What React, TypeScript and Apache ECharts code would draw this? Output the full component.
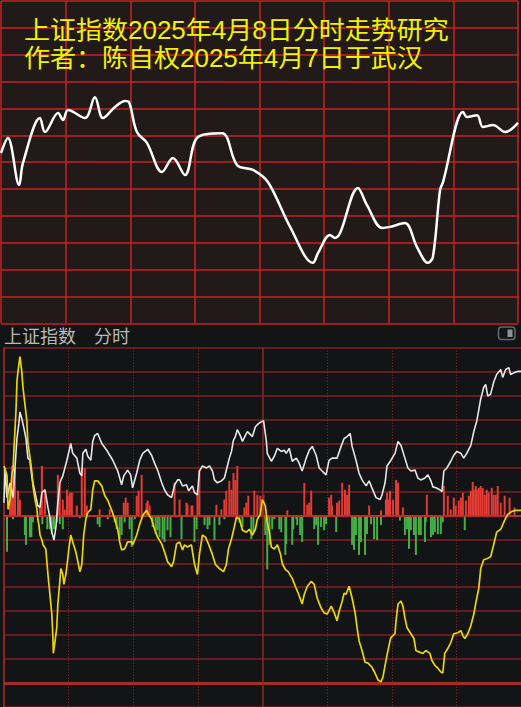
import React, { useEffect, useRef } from "react";
import * as echarts from "echarts";

// ---- Top panel: hand-drawn forecast curve (x: trading minute 0..240, y: grid rows 0..12)
const titleLine1 = "上证指数2025年4月8日分时走势研究";
const titleLine2 = "作者：陈自权2025年4月7日于武汉";
const forecastLine: [number, number][] = [
  [0, 6.34], [3.2, 6.9], [8.4, 5.15], [10.2, 5.97], [18.1, 7.64], [20.4, 7.12], [26.5, 7.83],
  [28.8, 7.57], [31.1, 7.94], [39.0, 7.64], [43.6, 8.42], [47.3, 7.64], [52.9, 8.05], [57.6, 8.28],
  [59.4, 8.24], [63.1, 7.12], [67.8, 6.71], [74.7, 5.63], [79.8, 6.15], [85.4, 5.52], [91.4, 6.94],
  [102.6, 7.08], [109.6, 5.89], [117.0, 5.71], [123.9, 5.26], [134.2, 3.59], [144.8, 2.25],
  [147.2, 2.62], [152.7, 3.29], [155.0, 3.18], [157.4, 3.36], [165.7, 5.04], [169.9, 4.4],
  [176.9, 3.55], [180.6, 3.59], [187.5, 3.73], [193.1, 2.84], [198.2, 2.25], [200.5, 2.47],
  [203.8, 4.96], [205.2, 5.26], [214.5, 7.87], [216.3, 7.68], [221.0, 7.75], [223.7, 7.31],
  [228.4, 7.38], [234.0, 7.12], [240.0, 7.46],
];

// ---- Bottom panel: real intraday chart (x: minute 0..240, y: grid units, 0 = previous close)
const headerName = "上证指数";
const headerMode = "分时";
const indexLine: [number, number][] = [
  [0, 0.53], [0.5, 1.98], [1.4, 0.74], [2.8, 1.36], [4.2, 0.74], [5.1, 1.98], [6.0, 3.21], [6.9, 3.83],
  [7.4, 4.32], [8.3, 4.03], [9.3, 3.62], [10.2, 3.21], [11.1, 2.39], [12.0, 2.3], [13.0, 1.56],
  [14.4, 0.95], [15.7, 0.41], [16.7, 0.33], [17.6, 0.95], [19.0, 1.07], [20.4, 0.33], [21.3, -0.08],
  [22.2, -0.7], [23.2, -1.03], [24.1, -0.49], [25.0, 0.53], [25.9, 1.36], [27.3, 1.65], [29.2, 2.3],
  [31.0, 3.0], [31.9, 2.59], [33.8, 2.39], [35.2, 1.77], [36.1, 1.65], [36.6, 2.59], [38.0, 2.76],
  [38.9, 2.47], [40.3, 2.3], [41.2, 3.09], [42.1, 3.33], [43.5, 3.42], [45.4, 3.0], [47.7, 2.72],
  [50.5, 2.3], [52.8, 1.85], [54.6, 1.28], [55.6, 1.65], [57.4, 1.89], [58.8, 1.69], [59.7, 1.15],
  [61.6, 1.77], [63.0, 2.3], [64.4, 2.59], [66.7, 2.76], [68.5, 2.51], [69.9, 2.18], [71.3, 1.89],
  [73.2, 1.36], [74.5, 1.07], [75.9, 0.86], [77.8, 0.74], [79.2, 1.28], [80.6, 1.48], [81.5, 1.48],
  [82.9, 1.23], [84.7, 1.28], [85.7, 1.03], [87.5, 1.23], [88.4, 0.95], [89.8, 0.86], [90.7, 1.85],
  [92.1, 2.06], [94.0, 1.98], [95.4, 2.06], [96.8, 1.85], [97.7, 1.48], [99.1, 1.36], [100.9, 1.44],
  [102.3, 1.56], [103.7, 2.06], [104.6, 2.39], [105.6, 2.67], [106.5, 3.13], [107.4, 3.29],
  [108.3, 3.58], [109.7, 3.33], [110.7, 3.09], [112.0, 3.33], [113.0, 3.5], [114.4, 3.37],
  [115.3, 3.29], [116.7, 3.7], [118.1, 3.83], [119.5, 3.91], [120.5, 3.95], [121.8, 3.09],
  [122.2, 2.59], [124.1, 2.26], [125.5, 2.47], [126.9, 2.8], [128.7, 2.67], [130.1, 2.72],
  [131.0, 2.59], [132.4, 2.8], [133.8, 2.26], [135.7, 2.39], [137.0, 2.18], [138.4, 1.85],
  [140.3, 2.39], [141.7, 2.72], [143.1, 2.88], [144.9, 2.51], [146.3, 1.98], [147.7, 1.85],
  [149.5, 1.69], [150.9, 2.3], [152.3, 2.39], [154.6, 2.39], [156.5, 2.88], [157.9, 3.21],
  [159.3, 3.29], [160.7, 3.42], [161.6, 2.88], [163.4, 2.3], [164.8, 1.77], [166.2, 1.48],
  [168.1, 1.23], [169.5, 1.44], [170.8, 1.15], [172.7, 0.74], [174.6, 0.66], [175.5, 0.86],
  [176.9, 1.36], [177.8, 2.06], [179.6, 2.3], [181.5, 2.59], [182.9, 3.09], [184.3, 2.92],
  [186.1, 2.39], [187.5, 1.98], [188.9, 1.85], [190.8, 1.89], [192.1, 1.56], [193.5, 1.48],
  [195.4, 1.56], [196.8, 1.69], [198.2, 1.44], [199.1, 1.19], [200.5, 1.15], [202.3, 1.07],
  [203.3, 0.99], [204.2, 1.85], [205.6, 1.98], [207.4, 2.26], [208.8, 2.51], [210.2, 2.67],
  [212.1, 2.59], [213.4, 2.39], [214.8, 2.59], [216.7, 2.92], [218.1, 3.5], [219.5, 3.95],
  [221.3, 4.86], [222.7, 5.35], [223.6, 5.47], [224.6, 4.98], [225.9, 5.06], [227.3, 5.56],
  [228.7, 5.88], [230.6, 6.09], [231.5, 5.76], [232.9, 6.09], [234.3, 6.17], [235.2, 5.88],
  [237.1, 5.97], [238.4, 6.01], [240, 6.01],
];
const breadthLine: [number, number][] = [
  [0, 2.06], [1.4, 1.65], [1.9, 0.25], [2.8, 0.66], [3.7, 1.77], [4.2, 1.89], [4.6, 2.72], [5.6, 4.44],
  [6.0, 5.6], [6.5, 6.01], [7.4, 6.63], [8.3, 5.97], [8.8, 5.35], [9.7, 4.65], [10.6, 3.95],
  [11.1, 3.0], [12.0, 2.47], [13.0, 1.77], [13.4, 1.23], [14.4, 0.66], [15.3, 0.25], [15.7, -0.16],
  [16.2, -0.41], [16.7, -0.82], [17.6, -1.03], [18.1, -1.23], [19.4, -1.4], [19.9, -1.93],
  [20.4, -2.47], [21.3, -3.29], [22.2, -4.12], [22.7, -5.1], [22.9, -5.76], [23.6, -5.31],
  [24.5, -4.69], [25.0, -3.7], [25.9, -2.76], [26.4, -2.22], [27.3, -2.47], [27.8, -2.88],
  [28.7, -2.47], [29.6, -1.81], [30.1, -1.4], [31.0, -0.82], [31.9, -1.11], [33.3, -1.52],
  [34.3, -1.93], [35.2, -2.35], [36.1, -2.06], [36.6, -1.4], [37.0, -0.82], [38.0, -0.16],
  [38.9, 0.12], [40.3, 0.25], [41.2, 1.07], [42.1, 1.44], [43.5, 1.44], [45.4, 1.23], [46.8, 0.82],
  [48.2, 0.62], [50.0, 0.21], [51.4, -0.16], [52.8, -0.58], [53.7, -1.11], [54.6, -1.44],
  [56.0, -1.4], [57.4, -1.11], [59.3, -1.11], [59.7, -1.23], [61.6, -0.82], [63.0, -0.37],
  [64.4, 0], [66.2, 0.21], [67.1, 0.04], [68.5, -0.16], [69.9, -0.58], [71.3, -0.91], [73.2, -1.19],
  [74.5, -1.52], [75.9, -1.93], [77.8, -2.14], [78.7, -1.93], [80.1, -1.19], [81.5, -1.11],
  [82.9, -1.44], [83.8, -1.23], [85.2, -1.32], [87.0, -1.23], [88.4, -2.02], [89.4, -2.35],
  [89.8, -2.47], [90.7, -1.65], [92.1, -0.82], [93.5, -0.91], [94.9, -1.19], [96.8, -1.65],
  [98.2, -2.06], [100.0, -2.22], [101.9, -2.35], [103.2, -2.06], [104.2, -1.4], [105.6, -0.99],
  [106.9, -0.49], [107.9, -0.08], [109.3, -0.16], [110.7, -0.62], [112.5, -0.7], [113.9, -0.58],
  [115.3, -0.82], [116.7, -0.58], [117.6, -0.16], [119.0, 0.04], [119.9, 0.66], [121.3, 0.41],
  [122.2, -0.29], [123.2, -0.7], [124.1, -1.32], [125.5, -1.4], [126.9, -1.23], [128.3, -1.6],
  [129.2, -2.02], [130.6, -2.26], [131.9, -2.35], [133.8, -2.63], [135.2, -2.96], [136.6, -3.25],
  [138.4, -3.7], [139.4, -3.29], [140.8, -2.96], [142.6, -2.76], [144.0, -2.88], [145.4, -3.46],
  [147.2, -3.87], [148.6, -4.07], [150.0, -4.12], [151.9, -3.79], [153.3, -4.07], [154.6, -4.4],
  [155.6, -3.99], [157.0, -3.58], [157.9, -3.25], [158.8, -3.29], [160.2, -2.96], [161.6, -3.46],
  [163.0, -4.07], [163.9, -4.69], [164.8, -5.23], [166.2, -5.64], [167.6, -6.13], [169.0, -6.17],
  [170.8, -6.34], [172.2, -6.58], [173.6, -6.87], [175.0, -6.95], [175.9, -6.75], [176.9, -6.26],
  [177.8, -5.84], [179.2, -5.23], [179.6, -5.1], [181.5, -4.94], [182.0, -4.4], [182.9, -3.7],
  [184.3, -3.58], [185.2, -3.79], [186.1, -4.28], [187.1, -4.69], [188.9, -4.94], [190.3, -5.14],
  [191.2, -5.64], [193.1, -5.72], [194.5, -5.76], [195.8, -5.64], [197.7, -5.76], [198.6, -6.05],
  [200.0, -6.26], [201.4, -6.38], [202.8, -6.54], [203.7, -6.58], [204.6, -5.76], [206.0, -5.56],
  [207.4, -5.31], [208.8, -4.94], [210.7, -4.9], [212.1, -4.81], [213.0, -5.02], [213.9, -5.14],
  [215.3, -4.94], [216.7, -4.61], [218.1, -4.12], [219.0, -3.66], [220.4, -3.05], [221.3, -2.22],
  [222.7, -1.85], [224.1, -1.81], [225.9, -1.73], [227.3, -1.23], [228.7, -0.7], [230.6, -0.58],
  [232.4, -0.21], [233.8, 0.04], [235.7, 0.16], [237.5, 0.21], [240, 0.21],
];
const upBars: [number, number][] = [
  [2.8, 1.15], [3.7, 2.06], [4.2, 2.1], [5.1, 1.98], [6.5, 1.03], [7.4, 0.66], [16.7, 0.41],
  [17.6, 2.06], [19.0, 1.07], [25.0, 1.69], [25.9, 1.36], [27.3, 0.66], [28.2, 0.25], [29.2, 1.07],
  [29.6, 0.82], [30.6, 0.95], [31.5, 0.95], [33.8, 0.41], [36.1, 1.98], [37.5, 1.98], [38.4, 0.41],
  [44.4, 0.25], [49.1, 0.25], [55.6, 0.53], [56.5, 0.74], [57.4, 0.53], [61.6, 0.82], [62.5, 1.03],
  [63.9, 1.69], [66.2, 0.53], [66.7, 0.62], [67.6, 0.41], [79.2, 1.36], [81.5, 0.66], [84.7, 0.53],
  [85.2, 0.45], [87.0, 0.41], [87.5, 0.41], [89.8, 1.07], [90.7, 1.89], [98.6, 0.45], [100.9, 0.25],
  [102.3, 0.66], [103.2, 1.03], [104.6, 1.44], [105.6, 1.07], [106.5, 1.77], [107.4, 1.48],
  [108.3, 2.06], [111.6, 0.33], [112.5, 0.53], [113.4, 0.82], [116.2, 1.03], [117.6, 0.86],
  [119.0, 0.82], [120.4, 0.86], [131.5, 0.21], [139.4, 1.36], [140.8, 0.45], [141.7, 0.53],
  [142.6, 1.03], [150.9, 0.74], [151.9, 0.86], [152.3, 0.41], [154.6, 0.53], [155.6, 0.62],
  [157.0, 1.36], [158.3, 1.07], [159.3, 0.86], [160.2, 1.28], [169.5, 0.41], [175.0, 0.21],
  [177.3, 0.66], [177.8, 0.95], [178.7, 0.66], [179.2, 1.03], [180.6, 0.66], [182.0, 1.48],
  [182.9, 1.36], [185.2, 0.33], [196.3, 0.86], [204.2, 1.23], [206.0, 0.82], [207.4, 0.25],
  [208.8, 0.74], [209.7, 0.41], [211.1, 0.62], [212.1, 0.74], [213.0, 0.95], [214.4, 0.62],
  [215.8, 0.82], [216.7, 1.03], [217.6, 1.4], [218.1, 1.07], [219.0, 1.23], [219.5, 1.07],
  [220.4, 1.15], [221.3, 1.23], [222.2, 1.15], [223.2, 0.86], [224.1, 1.07], [225.0, 0.95],
  [226.4, 1.15], [227.3, 0.86], [228.3, 0.86], [229.2, 1.23], [230.6, 0.53], [232.4, 0.82],
  [234.7, 0.74], [237.0, 0.33],
];
const downBars: [number, number][] = [
  [1.4, -1.52], [4.2, -0.16], [9.7, -0.82], [10.2, -1.23], [12.0, -0.91], [12.7, -0.91],
  [13.4, -0.29], [17.8, -0.37], [20.1, -0.58], [21.3, -0.58], [22.2, -0.78], [23.2, -0.58],
  [24.5, -0.29], [25.9, -0.37], [27.3, -0.58], [35.2, -0.12], [43.5, -0.37], [44.4, -0.49],
  [48.2, -0.16], [51.4, -0.29], [52.3, -0.58], [53.7, -0.99], [54.6, -0.82], [56.0, -0.29],
  [58.3, -0.58], [59.3, -1.32], [60.7, -0.16], [69.0, -0.49], [70.4, -0.78], [71.3, -0.62],
  [72.2, -0.91], [73.6, -0.99], [74.5, -1.11], [75.9, -0.62], [77.3, -0.91], [80.6, -0.08],
  [82.4, -0.99], [88.4, -1.11], [89.4, -0.58], [93.1, -0.41], [94.5, -0.58], [95.4, -0.41],
  [97.7, -1.03], [100.0, -0.41], [102.3, -0.16], [109.3, -0.29], [110.7, -0.49], [114.8, -0.99],
  [115.8, -0.7], [121.3, -0.82], [122.2, -2.26], [123.2, -1.23], [124.5, -0.58], [125.5, -0.16],
  [127.8, -0.58], [128.7, -0.7], [130.6, -1.65], [131.0, -1.19], [133.8, -1.23], [134.3, -0.58],
  [135.7, -0.16], [136.1, -0.41], [137.5, -0.82], [138.4, -1.11], [144.0, -0.58], [144.9, -0.41],
  [145.8, -1.23], [147.2, -0.49], [148.6, -0.62], [149.5, -0.37], [154.2, -0.7], [161.6, -1.23],
  [162.5, -1.44], [163.4, -0.82], [164.8, -1.65], [165.7, -1.11], [167.6, -1.65], [168.5, -0.78],
  [170.4, -0.37], [171.8, -0.99], [173.2, -1.03], [175.0, -0.41], [183.8, -0.21], [186.1, -0.82],
  [187.1, -0.58], [188.0, -1.4], [188.9, -0.62], [190.3, -0.82], [191.2, -1.65], [192.6, -0.82],
  [193.5, -0.82], [195.4, -1.11], [195.8, -0.29], [198.2, -0.91], [199.1, -0.82], [200.0, -0.7],
  [201.4, -0.78], [202.8, -0.78], [203.7, -0.29], [213.9, -0.62], [224.6, -0.08],
];

const hidden = { show: false };

export default function App() {
  const ref = useRef<HTMLDivElement>(null);
  useEffect(() => {
    const chart = echarts.init(ref.current as HTMLDivElement, null, {
      renderer: "svg",
      width: 521,
      height: 707,
    });
    const titleFont = '25px "Liberation Sans", "Noto Sans CJK SC"';
    const headerFont = '18px "Noto Sans CJK SC"';
    chart.setOption({
      animation: false,
      backgroundColor: "#131416",
      grid: [
        { left: 1, top: 1, width: 517, height: 322.3, show: true, backgroundColor: "#221a18", borderWidth: 0 },
        { left: 4, top: 347.7, width: 518.4, height: 364.5, show: false },
      ],
      xAxis: [
        {
          gridIndex: 0, type: "value", min: 0, max: 240, interval: 30,
          axisLine: hidden, axisTick: hidden, axisLabel: hidden,
          splitLine: { show: true, lineStyle: { color: "#c8221f", width: 1.5 } },
        },
        {
          gridIndex: 1, type: "value", min: 0, max: 240, interval: 30,
          axisLine: hidden, axisTick: hidden, axisLabel: hidden,
          splitLine: { show: true, lineStyle: { color: "#8e2a2a", width: 1, type: [1, 2] } },
        },
      ],
      yAxis: [
        {
          gridIndex: 0, type: "value", min: 0, max: 12, interval: 1,
          axisLine: hidden, axisTick: hidden, axisLabel: hidden,
          splitLine: { show: true, lineStyle: { color: "#c8221f", width: 1.5 } },
        },
        {
          gridIndex: 1, type: "value", min: -8, max: 7, interval: 1,
          axisLine: { show: true, lineStyle: { color: "#8a2626", width: 2 } },
          axisTick: hidden, axisLabel: hidden,
          splitLine: { show: true, lineStyle: { color: "#7c2222", width: 1.6 } },
        },
      ],
      series: [
        {
          type: "line", xAxisIndex: 0, yAxisIndex: 0, data: forecastLine,
          smooth: 0.35, symbol: "none", lineStyle: { color: "#ffffff", width: 2.5 },
        },
        {
          type: "bar", xAxisIndex: 1, yAxisIndex: 1, data: downBars, barWidth: 2, barGap: "-100%",
          itemStyle: { color: "#46ad46" },
        },
        {
          type: "bar", xAxisIndex: 1, yAxisIndex: 1, data: upBars, barWidth: 2, barGap: "-100%",
          itemStyle: { color: "#e23b35" },
          markLine: {
            silent: true, symbol: "none", label: { show: false },
            data: [
              { yAxis: 0, lineStyle: { color: "#b8302a", width: 2.2, type: "solid" } },
              { yAxis: -7, lineStyle: { color: "#a52a2a", width: 3, type: "solid" } },
              { xAxis: 120, lineStyle: { color: "#8a2626", width: 1.5, type: "solid" } },
            ],
          },
        },
        {
          type: "line", xAxisIndex: 1, yAxisIndex: 1, data: indexLine, symbol: "none", z: 5,
          lineStyle: { color: "#e6e6e6", width: 1.6 },
        },
        {
          type: "line", xAxisIndex: 1, yAxisIndex: 1, data: breadthLine, symbol: "none", z: 6,
          lineStyle: { color: "#e8d60c", width: 1.7 },
        },
      ],
      graphic: [
        {
          type: "text", x: 24, y: 30.5, z: 100, scaleX: 1.04,
          style: {
            text: titleLine1, fill: "#f2f200", font: titleFont, lineHeight: 24,
            align: "left", verticalAlign: "middle", textAlign: "left", textVerticalAlign: "middle",
          },
        },
        {
          type: "text", x: 24, y: 58.5, z: 100, scaleX: 1.04,
          style: {
            text: titleLine2, fill: "#f2f200", font: titleFont, lineHeight: 24,
            align: "left", verticalAlign: "middle", textAlign: "left", textVerticalAlign: "middle",
          },
        },
        {
          type: "text", x: 4, y: 335, z: 100,
          style: {
            text: headerName, fill: "#b8b8b8", font: headerFont,
            align: "left", verticalAlign: "middle", textAlign: "left", textVerticalAlign: "middle",
          },
        },
        {
          type: "text", x: 94, y: 335, z: 100,
          style: {
            text: headerMode, fill: "#b8b8b8", font: headerFont,
            align: "left", verticalAlign: "middle", textAlign: "left", textVerticalAlign: "middle",
          },
        },
        {
          type: "rect", z: 100,
          shape: { x: 498.5, y: 327, width: 16.5, height: 12.5, r: 3 },
          style: { fill: "none", stroke: "#63676b", lineWidth: 1.5 },
        },
        {
          type: "rect", z: 100,
          shape: { x: 507.5, y: 329.5, width: 5, height: 7.5 },
          style: { fill: "#8d9195" },
        },
      ],
    });
    return () => chart.dispose();
  }, []);
  return (
    <div
      ref={ref}
      style={{ position: "fixed", left: 0, top: 0, width: 521, height: 707 }}
    />
  );
}
